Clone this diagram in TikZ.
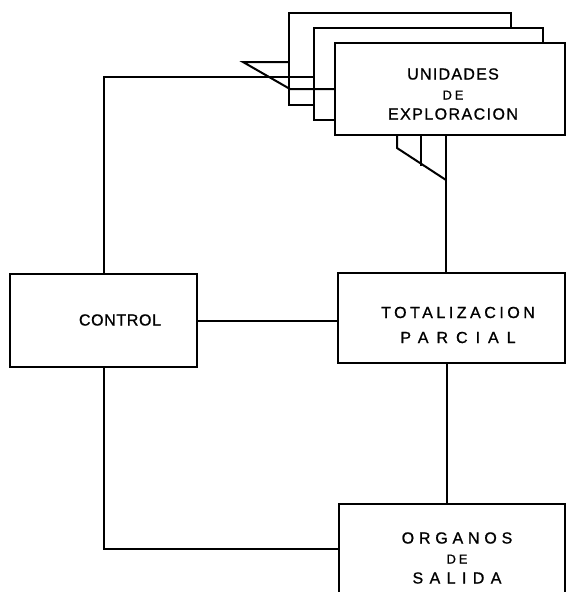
\documentclass[tikz,border=0pt]{standalone}
\usepackage{fontspec}
\setmainfont{Liberation Sans}[FakeBold=1]
\newcommand{\spaced}[2]{{\addfontfeature{LetterSpace=#1}#2}}

\begin{document}
\begin{tikzpicture} %Diagrama de bloques
      [
      x=1pt, y=-1pt,
      box/.style={rectangle, draw, fill=white, line width=2pt, inner sep=0pt},
      lbl/.style={align=center, inner sep=0pt, font=\fontsize{16}{20}\selectfont},
      wire/.style={line width=2pt}
      ]
      \useasboundingbox (0,0) rectangle (566,592);
      \clip (0,0) rectangle (566,592);
      % unidades de exploracion, una detras de otra
      \node[box, minimum width=222, minimum height=92] (unitA) at (400,59) {};
      \node[box, minimum width=229, minimum height=92] (unitB) at (428.5,74) {};
      \node[box, minimum width=230, minimum height=92] (unitC) at (450,89) {};
      \node[box, minimum width=187, minimum height=93] (control) at (103.5,320.5) {};
      \node[box, minimum width=227, minimum height=90] (total) at (451.5,318) {};
      \node[box, minimum width=226, minimum height=116] (organos) at (452,562) {};
      \node[lbl] (unittxt) at (453,94) {\spaced{8}{UNIDADES}\\{\fontsize{13}{20}\selectfont\spaced{22}{DE}}\\\spaced{9}{EXPLORACION}};
      \node[lbl] (controltxt) at (120,320) {\spaced{4}{CONTROL}};
      \node[lbl, font=\fontsize{16}{25}\selectfont] (totaltxt) at (458,325) {\spaced{22}{TOTALIZACION}\\\spaced{50}{PARCIAL}};
      \node[lbl] (organostxt) at (457,558) {\spaced{30}{ORGANOS}\\{\fontsize{13}{20}\selectfont\spaced{22}{DE}}\\\spaced{40}{SALIDA}};
      \coordinate (fantop) at (243,62);
      \coordinate (fanknee) at (290,89);
      \coordinate (fanlow) at (397,148);
      \coordinate (fanend) at (446,180);
      \draw[wire] (control.north) |- (unitB.west |- 0,77);
      \draw[wire] (unitA.west |- fantop) -- (fantop) -- (fanknee) -- (unitC.west |- fanknee);
      \draw[wire] (unitC.south -| fanlow) -- (fanlow) -- (fanend);
      \draw[wire] (unitC.south -| 421,0) -- (421,166);
      \draw[wire] (unitC.south -| fanend) -- (total.north -| fanend);
      \draw[wire] (control.east |- 0,321) -- (total.west |- 0,321);
      \draw[wire] (total.south -| 447,0) -- (organos.north -| 447,0);
      \draw[wire] (control.south) |- (organos.west |- 0,549);
\end{tikzpicture}
\end{document}
